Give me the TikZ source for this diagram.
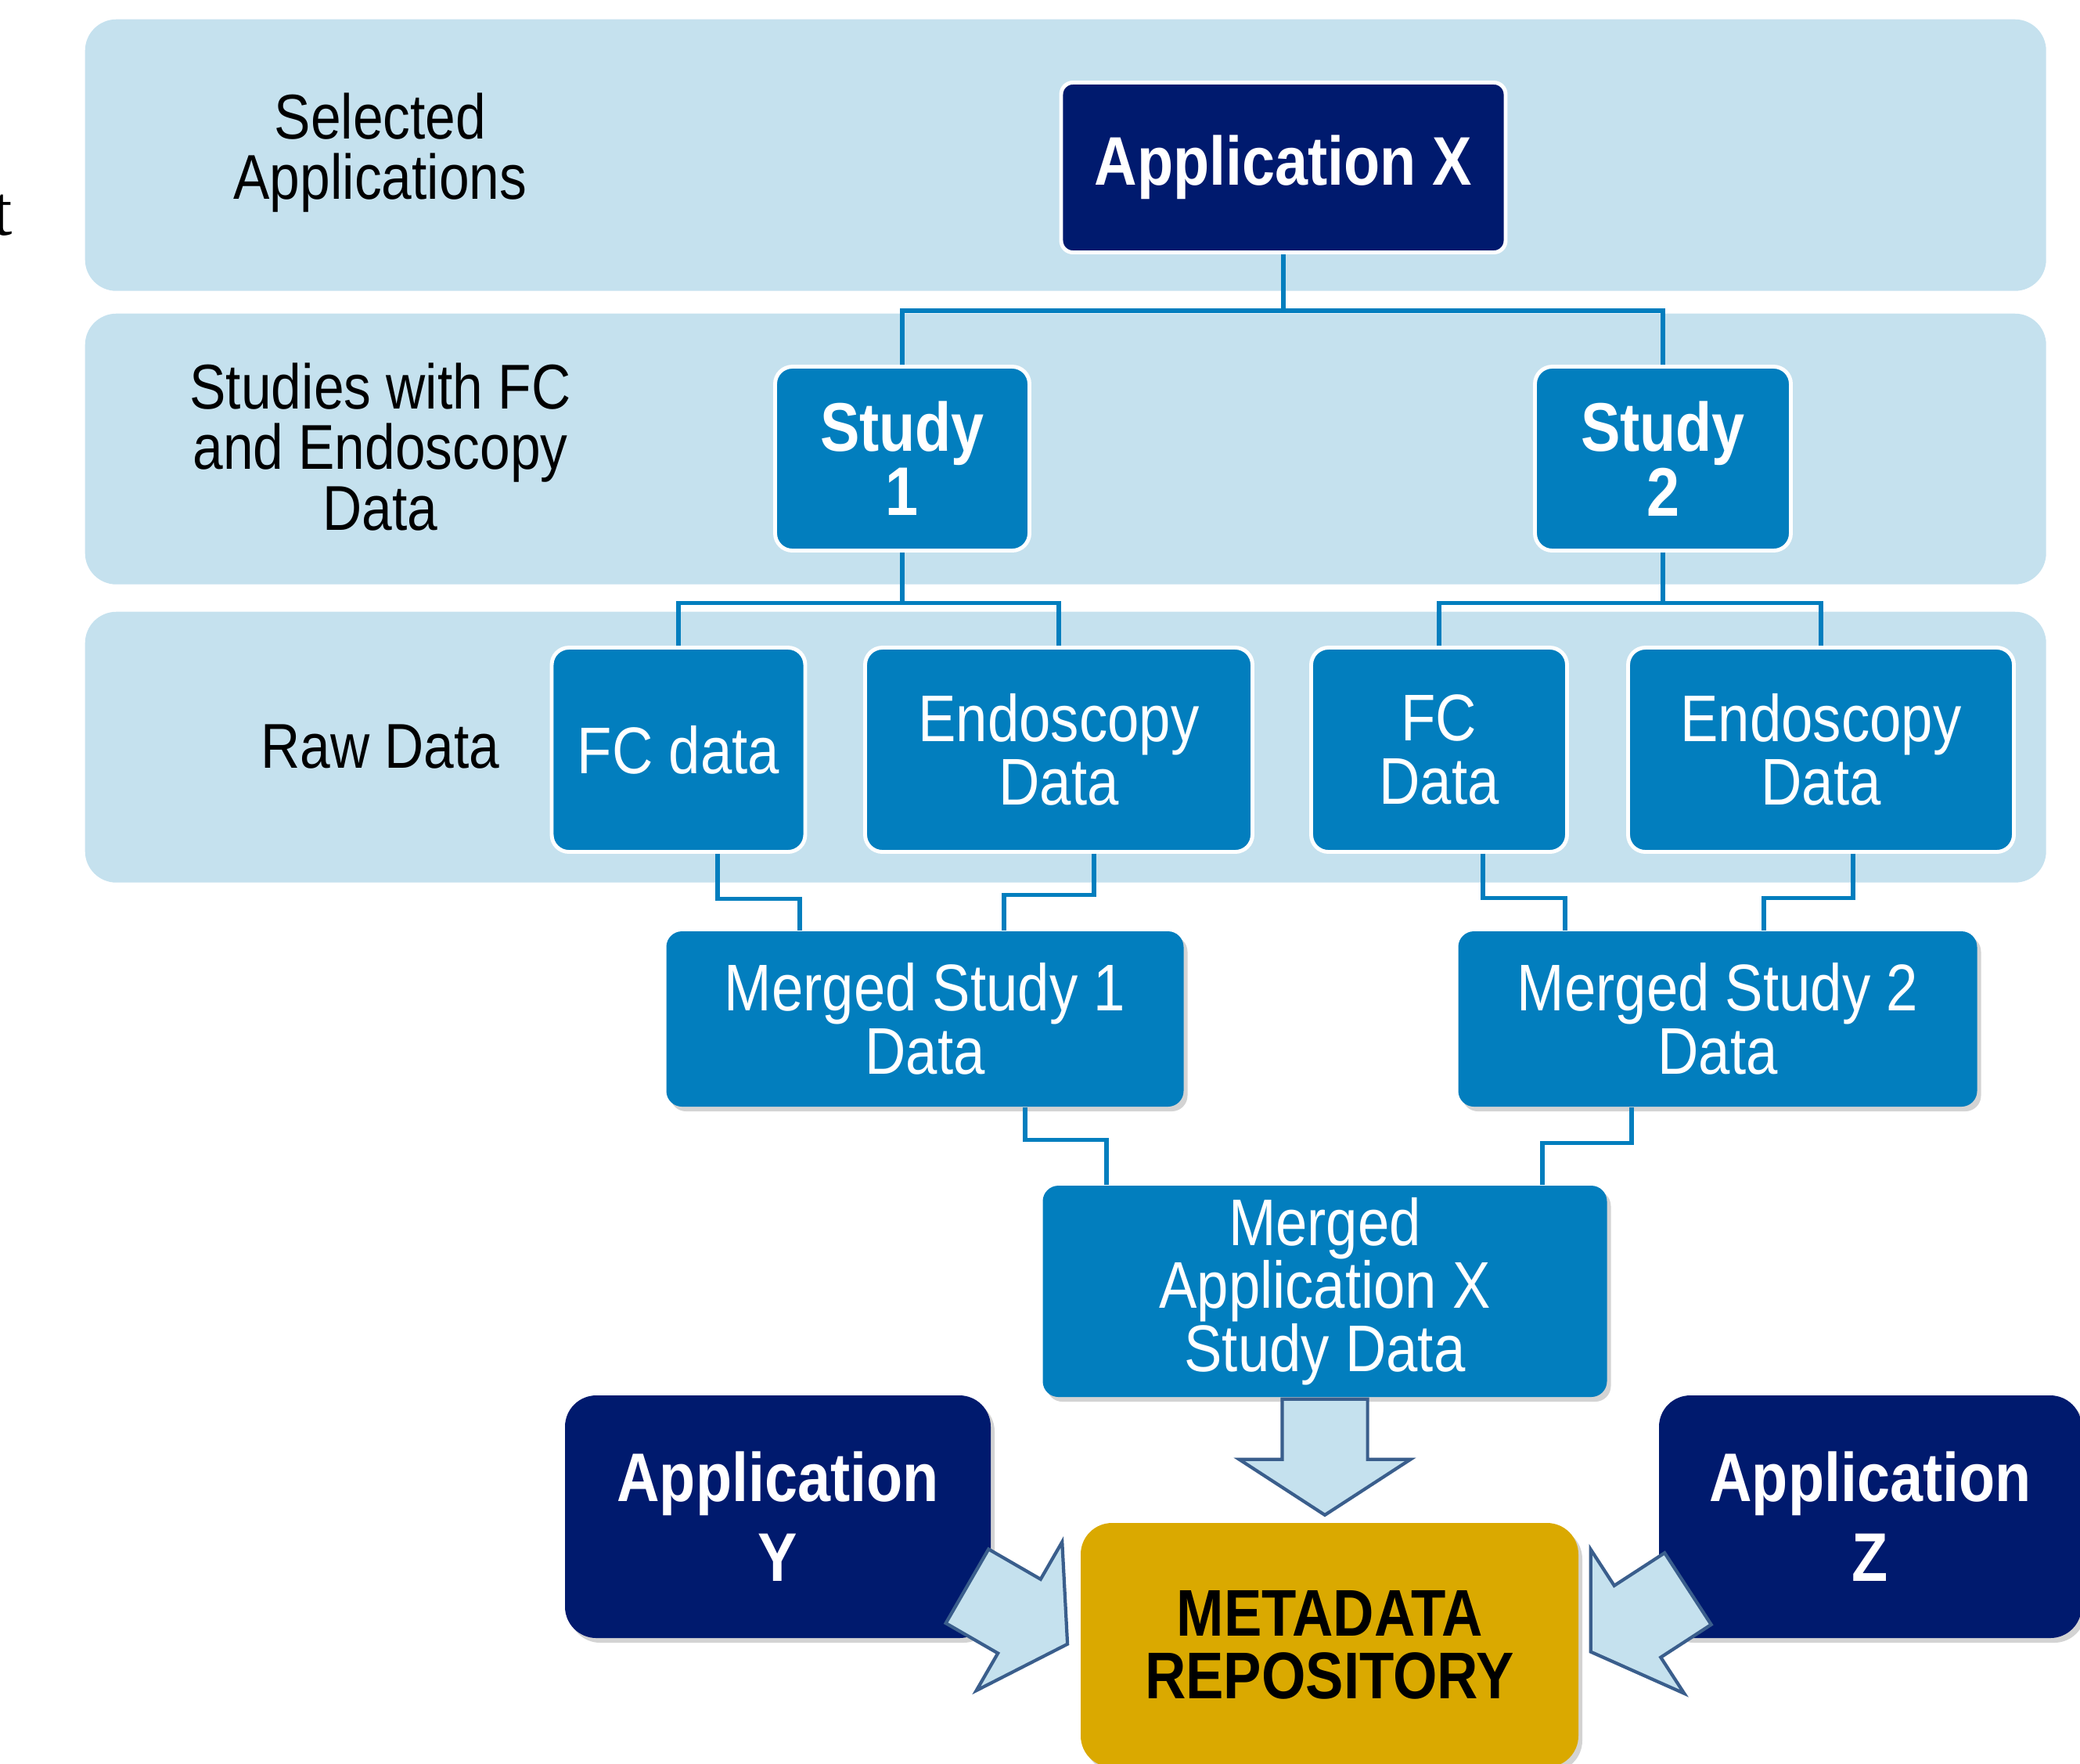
\documentclass[tikz,border=0pt]{standalone}
\usepackage{fontspec}
\setmainfont[FakeStretch=0.86]{Liberation Sans}
\newfontfamily\serifcut{Liberation Serif}
\usetikzlibrary{shapes.arrows,shadows}

\definecolor{bandblue}{RGB}{197,225,238}
\definecolor{midblue}{RGB}{2,126,190}
\definecolor{navy}{RGB}{0,26,110}
\definecolor{gold}{RGB}{218,169,0}
\definecolor{arrowedge}{RGB}{58,94,140}

\tikzset{
  band/.style={fill=bandblue, rounded corners=0.4cm, anchor=north west, inner sep=0pt},
  bandlabel/.style={align=center, text=black, font=\fontsize{23}{22}\selectfont},
  studybox/.style={fill=midblue, draw=white, line width=1.4pt, rounded corners=0.22cm,
    text=white, align=center, inner sep=0pt},
  mergebox/.style={fill=midblue, rounded corners=0.2cm, text=white, align=center, inner sep=0pt,
    font=\fontsize{24}{23}\selectfont,
    drop shadow={opacity=0.35, shadow xshift=0.05cm, shadow yshift=-0.06cm}},
  appbox/.style={fill=navy, text=white, align=center, inner sep=0pt,
    font=\fontsize{25}{29}\selectfont\bfseries},
  repobox/.style={fill=gold, text=black, align=center, inner sep=0pt, rounded corners=0.4cm,
    font=\fontsize{24}{22.6}\selectfont\bfseries,
    drop shadow={opacity=0.35, shadow xshift=0.05cm, shadow yshift=-0.06cm}},
  conn/.style={draw=midblue, line width=1.5pt},
  fatarrow/.style={single arrow, draw=arrowedge, fill=bandblue, line width=1.2pt,
    minimum height=1.48cm, minimum width=2.16cm, single arrow head extend=0.55cm,
    single arrow tip angle=114, inner xsep=0pt, inner ysep=0.525cm}
}

\begin{document}
\begin{tikzpicture}
    \useasboundingbox (0,0) rectangle (26.58,-22.53);

%bands
    \node[band, minimum width=25.06cm, minimum height=3.47cm] (bandApps) at (1.08,-0.24) {};
    \node[band, minimum width=25.06cm, minimum height=3.46cm] (bandStudies) at (1.08,-4.00) {};
    \node[band, minimum width=25.06cm, minimum height=3.46cm] (bandRaw) at (1.08,-7.81) {};

    \node[anchor=base east, font=\serifcut\fontsize{26}{26}\selectfont] (edgeT) at (0.28,-3.00) {t};

    \node[bandlabel] (lblApps) at (4.86,-1.95) {Selected\\Applications};
    \node[bandlabel] (lblStudies) at (4.86,-5.71) {Studies with FC\\and Endoscopy\\Data};
    \node[bandlabel] (lblRaw) at (4.86,-9.54) {Raw Data};

%application x
    \node[appbox, draw=white, line width=1.4pt, rounded corners=0.15cm,
      minimum width=5.68cm, minimum height=2.17cm] (appX) at (16.40,-2.14) {Application X};

%studies
    \node[studybox, font=\fontsize{25}{21}\selectfont\bfseries,
      minimum width=3.25cm, minimum height=2.35cm] (study1) at (11.53,-5.86) {Study\\1};
    \node[studybox, font=\fontsize{25}{21}\selectfont\bfseries,
      minimum width=3.27cm, minimum height=2.35cm] (study2) at (21.25,-5.86) {Study\\2};

%raw data
    \node[studybox, font=\fontsize{24}{23}\selectfont,
      minimum width=3.24cm, minimum height=2.61cm] (fc1) at (8.67,-9.58) {FC data};
    \node[studybox, font=\fontsize{24}{23}\selectfont,
      minimum width=4.95cm, minimum height=2.61cm] (endo1) at (13.53,-9.58) {Endoscopy\\Data};
    \node[studybox, font=\fontsize{24}{23}\selectfont,
      minimum width=3.27cm, minimum height=2.61cm] (fc2) at (18.39,-9.58) {FC\\Data};
    \node[studybox, font=\fontsize{24}{23}\selectfont,
      minimum width=4.93cm, minimum height=2.61cm] (endo2) at (23.27,-9.58) {Endoscopy\\Data};

%merged
    \node[mergebox, minimum width=6.61cm, minimum height=2.24cm] (merged1) at (11.82,-13.02) {Merged Study 1\\Data};
    \node[mergebox, minimum width=6.63cm, minimum height=2.24cm] (merged2) at (21.95,-13.02) {Merged Study 2\\Data};
    \node[mergebox, minimum width=7.21cm, minimum height=2.70cm] (mergedX) at (16.93,-16.50) {Merged\\Application X\\Study Data};

%other applications
    \node[appbox, rounded corners=0.4cm, minimum width=5.44cm, minimum height=3.10cm,
      drop shadow={opacity=0.35, shadow xshift=0.05cm, shadow yshift=-0.06cm}] (appY) at (9.94,-19.38) {Application\\Y};
    \node[appbox, rounded corners=0.4cm, minimum width=5.40cm, minimum height=3.10cm,
      drop shadow={opacity=0.35, shadow xshift=0.05cm, shadow yshift=-0.06cm}] (appZ) at (23.90,-19.38) {Application\\Z};

%repository
    \node[repobox, minimum width=6.36cm, minimum height=3.12cm] (meta) at (16.99,-21.02) {METADATA\\REPOSITORY};

%connectors
    \draw[conn] (appX.south) -- ++(0,-0.72) coordinate (splitX) -| (study1.north);
    \draw[conn] (splitX) -| (study2.north);

    \draw[conn] (study1.south) -- ++(0,-0.645) coordinate (split1) -| (fc1.north);
    \draw[conn] (split1) -| (endo1.north);
    \draw[conn] (study2.south) -- ++(0,-0.645) coordinate (split2) -| (fc2.north);
    \draw[conn] (split2) -| (endo2.north);

    \draw[conn] ([xshift=0.5cm]fc1.south) -- ++(0,-0.575) -| ([xshift=-1.6cm]merged1.north);
    \draw[conn] ([xshift=0.45cm]endo1.south) -- ++(0,-0.525) -| ([xshift=1.01cm]merged1.north);
    \draw[conn] ([xshift=0.56cm]fc2.south) -- ++(0,-0.565) -| ([xshift=-1.95cm]merged2.north);
    \draw[conn] ([xshift=0.41cm]endo2.south) -- ++(0,-0.565) -| ([xshift=0.59cm]merged2.north);

    \draw[conn] ([xshift=1.28cm]merged1.south) -- ++(0,-0.42) -| ([xshift=-2.79cm]mergedX.north);
    \draw[conn] ([xshift=-1.10cm]merged2.south) -- ++(0,-0.46) -| ([xshift=2.78cm]mergedX.north);

%block arrows
    \node[fatarrow, rotate=-90, anchor=tail] (toMeta) at (mergedX.south) {};
    \node[fatarrow, rotate=-30, anchor=tip] (fromY) at ([xshift=-0.14cm]meta.west) {};
    \node[fatarrow, rotate=-147, anchor=tip] (fromZ) at ([shift={(0.13,-0.10)}]meta.east) {};

\end{tikzpicture}
\end{document}
